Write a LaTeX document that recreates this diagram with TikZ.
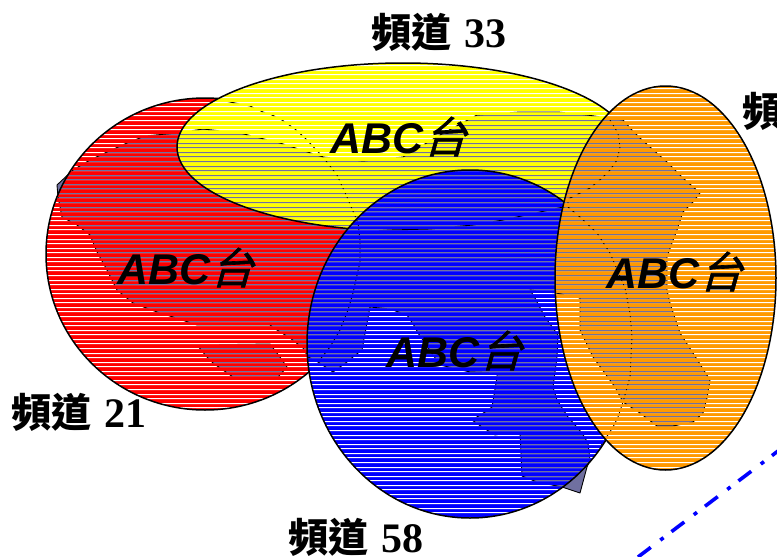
\documentclass[tikz,border=0pt]{standalone}
\usepackage{fontspec}
\setmainfont{Liberation Serif}
\newfontfamily\cjkhead{Noto Sans CJK TC}
\newfontfamily\cjkslant[FakeSlant=0.28,FakeBold=1.5]{Noto Sans CJK TC}
\newfontfamily\arialish{Liberation Sans}
\definecolor{slateb}{HTML}{7070A0}
\definecolor{redf}{HTML}{FF0000}
\definecolor{yelf}{HTML}{FFFF00}
\definecolor{bluf}{HTML}{0000FF}
\definecolor{oraf}{HTML}{FF9900}
\tikzset{
  x=1pt,y=-1pt,
  headlabel/.style={anchor=base west,inner sep=0pt,font=\fontsize{42}{42}\selectfont\bfseries},
  stationlabel/.style={anchor=base west,inner sep=0pt,font=\fontsize{43}{43}\selectfont\bfseries\itshape\arialish},
  outline/.style={draw=black,line width=1.5pt},
  blobline/.style={draw=black,line width=0.9pt,line join=round},
}
\newcommand{\blobdraw}{%
  \path[blobline,fill=slateb] (57,185)--(73,170)--(90,160)--(107,152)--(127,143)--(145,136)--(177,133)--(203,129)--(240,133)--(280,143)--(323,157)--(363,161)--(403,157)--(440,135)--(477,115)--(520,112)--(558,112)--(587,115)--(623,120)--(632,130)--(640,138)--(650,147)--(667,162)--(683,178)--(700,193)--(693,202)--(683,212)--(677,230)--(672,243)--(667,257)--(667,290)--(670,303)--(680,333)--(693,353)--(710,380)--(707,398)--(703,413)--(693,422)--(673,426)--(657,426)--(640,413)--(623,402)--(615,387)--(593,357)--(580,330)--(580,298)--(556,293)--(530,290)--(535,298)--(545,317)--(558,335)--(557,357)--(553,387)--(557,400)--(568,417)--(582,433)--(588,443)--(590,460)--(587,467)--(580,493)--(562,487)--(537,482)--(522,476)--(520,432)--(513,432)--(495,435)--(482,427)--(472,420)--(485,412)--(492,407)--(497,377)--(497,373)--(470,372)--(440,365)--(418,333)--(415,327)--(407,315)--(390,309)--(370,307)--(367,323)--(362,350)--(353,357)--(347,362)--(333,372)--(318,362)--(308,357)--(303,348)--(290,338)--(277,330)--(270,325)--(197,325)--(173,317)--(157,312)--(133,303)--(117,290)--(107,270)--(97,252)--(90,235)--(77,225)--(62,217)--(58,197)--cycle;
  \path[blobline,fill=slateb] (197,345)--(270,344)--(280,357)--(287,367)--(278,377)--(233,377)--(213,363)--(207,357)--cycle;
  \path[blobline] (215,99)--(230,102)--(250,106)--(263,112)--(272,115)--(282,120)--(295,129)--(305,138)--(323,157)--(337,175)--(347,197)--(358,223)--(360,240)--(360,262)--(353,293)--(348,310)--(340,330)--(330,347)--(318,362);
  \path[blobline] (358,232)--(390,230)--(430,229)--(473,225)--(503,220)--(540,212)--(568,206);
  \path[blobline] (610,120)--(618,133)--(620,147)--(617,160)--(610,170)--(602,178)--(590,188)--(580,193)--(568,199)--(568,207)--(580,217)--(597,233)--(610,253)--(625,288)--(630,313)--(632,337)--(630,377)--(623,402)--(618,417)--(613,427)--(600,447);
}
\newcommand{\stripelayer}[4]{%
  \fill[#1] (#2) ellipse [x radius=#3,y radius=#4];
  \begin{scope}
    \clip (#2) ellipse [x radius=#3,y radius=#4];
    \clip \foreach \k [evaluate=\k as \yy using round(138.2+4.56*\k)] in {-17,...,86} {(0,\yy) rectangle (777,\yy+1.0)};
    \fill[white] (0,0) rectangle (777,557);
    \blobdraw
  \end{scope}
  \draw[outline] (#2) ellipse [x radius=#3,y radius=#4];
}
\begin{document}
\begin{tikzpicture}
  \useasboundingbox (0,0) rectangle (777,557);
  \clip (0,0) rectangle (777,557);
  \blobdraw
  \stripelayer{redf}{205,254}{159}{156}
  \stripelayer{yelf}{403,147}{226}{84}
  \stripelayer{bluf}{470,344}{163}{174}
  \stripelayer{oraf}{665.5,278}{110.5}{192}
  \coordinate (dashA) at (638,557);
  \coordinate (dashB) at (782,448);
  \draw[color=bluf,line width=3.6pt,dash pattern=on 16pt off 12pt on 4pt off 10pt] (dashA) -- (dashB);
  \node[stationlabel] (stRed) at (117,284) {ABC{\mdseries\cjkslant 台}};
  \node[stationlabel] (stYel) at (330,153) {ABC{\mdseries\cjkslant 台}};
  \node[stationlabel] (stBlu) at (386,367) {ABC{\mdseries\cjkslant 台}};
  \node[stationlabel] (stOra) at (606,288) {ABC{\mdseries\cjkslant 台}};
  \node[headlabel] (ch33) at (371,47) {{\cjkhead\fontsize{40}{40}\selectfont 頻道}\hspace{13pt}33};
  \node[headlabel] (ch21) at (11,427) {{\cjkhead\fontsize{40}{40}\selectfont 頻道}\hspace{13pt}21};
  \node[headlabel] (ch58) at (288,552) {{\cjkhead\fontsize{40}{40}\selectfont 頻道}\hspace{13pt}58};
  \node[headlabel] (chR) at (742,126) {{\cjkhead\fontsize{40}{40}\selectfont 頻}};
\end{tikzpicture}
\end{document}
